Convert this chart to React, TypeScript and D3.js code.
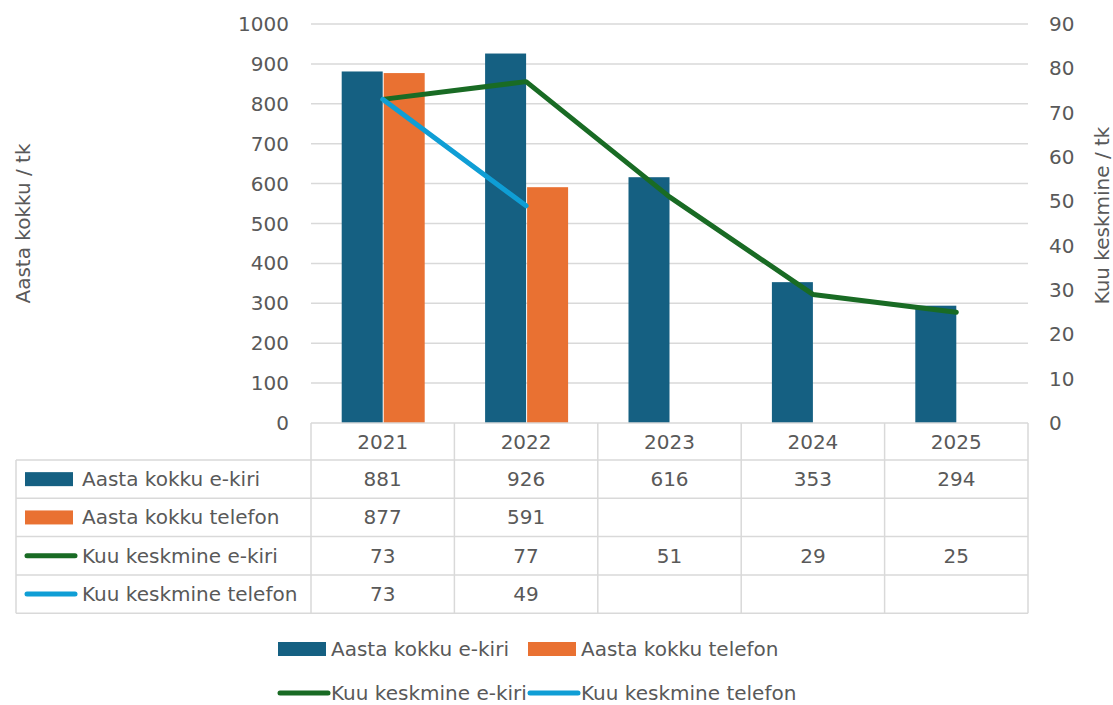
import * as d3 from 'd3';

const years = ['2021', '2022', '2023', '2024', '2025'];
const emailTotal: (number | null)[] = [881, 926, 616, 353, 294];
const phoneTotal: (number | null)[] = [877, 591, null, null, null];
const emailMonthly: (number | null)[] = [73, 77, 51, 29, 25];
const phoneMonthly: (number | null)[] = [73, 49, null, null, null];
const leftTicks = [0, 100, 200, 300, 400, 500, 600, 700, 800, 900, 1000];
const rightTicks = [0, 10, 20, 30, 40, 50, 60, 70, 80, 90];

const BLUE = '#156082';
const ORANGE = '#E97132';
const GREEN = '#196B24';
const LIGHTBLUE = '#0F9ED5';
const TEXT = '#595959';
const GRID = '#d9d9d9';
const FONT = '"DejaVu Sans", sans-serif';
const FS = 20;

type Series = { name: string; values: (number | null)[]; color: string; kind: 'bar' | 'line' };

const series: Series[] = [
	{ name: 'Aasta kokku e-kiri', values: emailTotal, color: BLUE, kind: 'bar' },
	{ name: 'Aasta kokku telefon', values: phoneTotal, color: ORANGE, kind: 'bar' },
	{ name: 'Kuu keskmine e-kiri', values: emailMonthly, color: GREEN, kind: 'line' },
	{ name: 'Kuu keskmine telefon', values: phoneMonthly, color: LIGHTBLUE, kind: 'line' },
];

export default function App() {
	const width = 1113;
	const height = 705;
	const plot = { left: 311, right: 1028, top: 24, bottom: 423 };

	const x = d3.scaleBand<string>().domain(years).range([plot.left, plot.right]);
	const yL = d3.scaleLinear().domain([0, 1000]).range([plot.bottom, plot.top]);
	const yR = d3.scaleLinear().domain([0, 90]).range([plot.bottom, plot.top]);
	const barW = 41;
	const sub = d3.scaleBand<string>().domain(['e', 't']).range([-barW, barW]);

	const rowTop = 460;
	const rowH = 38.3;
	const tableLeft = 16;
	const rows = series.map((s, i) => ({ ...s, y0: rowTop + i * rowH }));
	const tableBottom = rowTop + series.length * rowH;

	const lineGen = d3.line<{ year: string; v: number | null }>()
		.defined(d => d.v != null)
		.x(d => (x(d.year) ?? 0) + x.bandwidth() / 2)
		.y(d => yR(d.v as number));

	const swatch = (s: Series, sx: number, cy: number) =>
		s.kind === 'bar'
			? <rect x={sx} y={cy - 7} width={48} height={14} fill={s.color} />
			: <line x1={sx + 2} x2={sx + 50} y1={cy} y2={cy} stroke={s.color} strokeWidth={5} strokeLinecap="round" />;

	return (
		<svg width={width} height={height} style={{ position: 'absolute', left: 0, top: 0 }} fontFamily={FONT}>
			<rect width={width} height={height} fill="#fff" />

			{/* grid */}
			{leftTicks.filter(t => t > 0).map(t => (
				<line key={t} x1={plot.left} x2={plot.right} y1={yL(t)} y2={yL(t)} stroke={GRID} strokeWidth={1.5} />
			))}

			{/* left axis labels */}
			{leftTicks.map(t => (
				<text key={t} x={289} y={yL(t)} dy="0.35em" textAnchor="end" fontSize={FS} fill={TEXT}>{t}</text>
			))}
			{/* right axis labels */}
			{rightTicks.map(t => (
				<text key={t} x={1049} y={yR(t)} dy="0.35em" textAnchor="start" fontSize={FS} fill={TEXT}>{t}</text>
			))}

			<text transform={`translate(30,${(plot.top + plot.bottom) / 2}) rotate(-90)`} textAnchor="middle" fontSize={FS} fill={TEXT}>Aasta kokku / tk</text>
			<text transform={`translate(1109,${(plot.top + plot.bottom) / 2 - 8}) rotate(-90)`} textAnchor="middle" fontSize={FS} fill={TEXT}>Kuu keskmine / tk</text>

			{/* bars */}
			{years.map((yr, i) => {
				const cx = (x(yr) ?? 0) + x.bandwidth() / 2;
				return (
					<g key={yr}>
						{emailTotal[i] != null && (
							<rect x={cx + (sub('e') ?? 0)} y={yL(emailTotal[i] as number)} width={barW} height={plot.bottom - yL(emailTotal[i] as number)} fill={BLUE} />
						)}
						{phoneTotal[i] != null && (
							<rect x={cx + (sub('t') ?? 0) + 1} y={yL(phoneTotal[i] as number)} width={barW} height={plot.bottom - yL(phoneTotal[i] as number)} fill={ORANGE} />
						)}
					</g>
				);
			})}

			{/* lines */}
			{series.filter(s => s.kind === 'line').map(s => (
				<path key={s.name} d={lineGen(years.map((yr, i) => ({ year: yr, v: s.values[i] }))) ?? ''}
					fill="none" stroke={s.color} strokeWidth={5} strokeLinecap="round" strokeLinejoin="round" />
			))}

			{/* data table */}
			<g stroke={GRID} strokeWidth={1.5}>
				<line x1={plot.left} x2={plot.right} y1={plot.bottom} y2={plot.bottom} />
				{rows.map(r => (
					<line key={r.name} x1={tableLeft} x2={plot.right} y1={r.y0} y2={r.y0} />
				))}
				<line x1={tableLeft} x2={plot.right} y1={tableBottom} y2={tableBottom} />
				<line x1={tableLeft} x2={tableLeft} y1={rowTop} y2={tableBottom} />
				{years.map(yr => (
					<line key={yr} x1={x(yr)} x2={x(yr)} y1={plot.bottom} y2={tableBottom} />
				))}
				<line x1={plot.right} x2={plot.right} y1={plot.bottom} y2={tableBottom} />
			</g>
			{years.map(yr => (
				<text key={yr} x={(x(yr) ?? 0) + x.bandwidth() / 2} y={(plot.bottom + rowTop) / 2} dy="0.35em" textAnchor="middle" fontSize={FS} fill={TEXT}>{yr}</text>
			))}
			{rows.map(r => (
				<g key={r.name}>
					{swatch(r, 25, r.y0 + rowH / 2)}
					<text x={82} y={r.y0 + rowH / 2} dy="0.35em" fontSize={FS} fill={TEXT}>{r.name}</text>
					{years.map((yr, i) => r.values[i] != null && (
						<text key={yr} x={(x(yr) ?? 0) + x.bandwidth() / 2} y={r.y0 + rowH / 2} dy="0.35em" textAnchor="middle" fontSize={FS} fill={TEXT}>{r.values[i]}</text>
					))}
				</g>
			))}

			{/* legend */}
			{series.map((s, i) => {
				const lx = i % 2 === 0 ? 278 : 528;
				const ly = i < 2 ? 649 : 693;
				return (
					<g key={s.name}>
						{swatch(s, lx, ly)}
						<text x={lx + 53} y={ly} dy="0.35em" fontSize={FS} fill={TEXT}>{s.name}</text>
					</g>
				);
			})}
		</svg>
	);
}
